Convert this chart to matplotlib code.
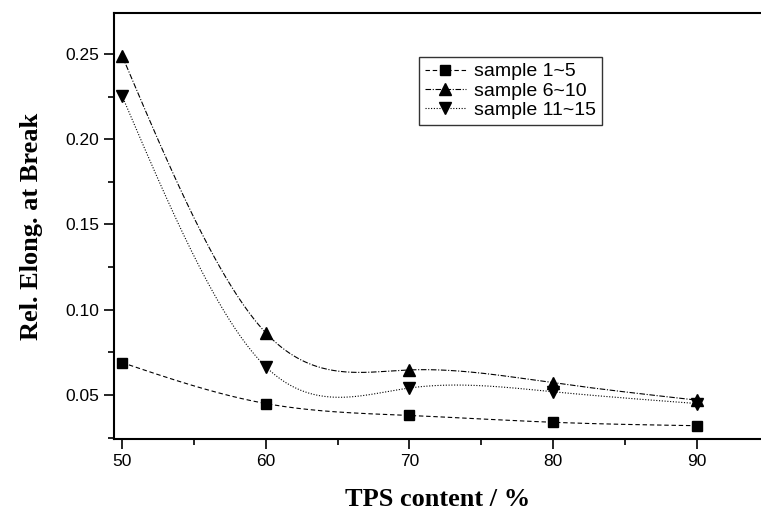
"""Rel. elongation at break vs TPS content, three sample groups."""

import matplotlib
matplotlib.use("Agg")
import matplotlib.pyplot as plt
import numpy as np
from matplotlib.ticker import MultipleLocator

tps = [50, 60, 70, 80, 90]
s1_5 = [0.069, 0.045, 0.038, 0.034, 0.032]
s6_10 = [0.249, 0.0865, 0.0647, 0.0572, 0.047]
s11_15 = [0.2254, 0.0666, 0.0541, 0.0519, 0.045]
labels = ["sample 1~5", "sample 6~10", "sample 11~15"]


def natural_spline(x, y, n=300):
    # natural cubic spline, only for drawing the smooth connecting line
    x = np.asarray(x, float)
    y = np.asarray(y, float)
    k = len(x)
    h = np.diff(x)
    A = np.zeros((k, k))
    b = np.zeros(k)
    A[0, 0] = A[-1, -1] = 1.0
    for i in range(1, k - 1):
        A[i, i - 1] = h[i - 1]
        A[i, i] = 2 * (h[i - 1] + h[i])
        A[i, i + 1] = h[i]
        b[i] = 6 * ((y[i + 1] - y[i]) / h[i] - (y[i] - y[i - 1]) / h[i - 1])
    M = np.linalg.solve(A, b)
    xs = np.linspace(x[0], x[-1], n)
    idx = np.clip(np.searchsorted(x, xs) - 1, 0, k - 2)
    x0, x1 = x[idx], x[idx + 1]
    hh = x1 - x0
    t0, t1 = x1 - xs, xs - x0
    ys = (M[idx] * t0 ** 3 + M[idx + 1] * t1 ** 3) / (6 * hh) \
        + (y[idx] / hh - M[idx] * hh / 6) * t0 + (y[idx + 1] / hh - M[idx + 1] * hh / 6) * t1
    return xs, ys


fig = plt.figure(figsize=(7.61, 5.15), dpi=100)
ax = fig.add_axes([114 / 761, 76 / 515, 647 / 761, 426 / 515])

styles = [((0, (4, 2.5)), "s", 6.5), ((0, (5, 1.5, 1, 1.5)), "^", 9), ((0, (1, 1.5)), "v", 9)]
handles = []
for vals, lab, (ls, mk, ms) in zip([s1_5, s6_10, s11_15], labels, styles):
    xs, ys = natural_spline(tps, vals)
    ax.plot(xs, ys, color="black", lw=0.8, ls=ls)
    ax.plot(tps, vals, ls="none", marker=mk, ms=ms, color="black")
    h, = ax.plot([], [], color="black", lw=0.8, ls=ls, marker=mk, ms=ms)
    handles.append(h)

ax.set_xlim(49.44, 94.47)
ax.set_ylim(0.0242, 0.274)
ax.xaxis.set_major_locator(MultipleLocator(10))
ax.xaxis.set_minor_locator(MultipleLocator(5))
ax.yaxis.set_major_locator(MultipleLocator(0.05))
ax.yaxis.set_minor_locator(MultipleLocator(0.025))
ax.yaxis.set_major_formatter(plt.FuncFormatter(lambda v, p: f"{v:.2f}"))
ax.tick_params(which="major", direction="out", length=7, width=1.2, labelsize=12.5)
ax.tick_params(which="minor", direction="out", length=4, width=1.2)
for lbl in ax.get_xticklabels() + ax.get_yticklabels():
    lbl.set_fontfamily("Liberation Sans")
ax.spines["right"].set_visible(False)
for s in ["left", "bottom", "top"]:
    ax.spines[s].set_linewidth(1.5)

ax.set_xlabel("TPS content / %", fontfamily="Liberation Serif", fontweight="bold", fontsize=19, labelpad=14)
ax.set_ylabel("Rel. Elong. at Break", fontfamily="Liberation Serif", fontweight="bold", fontsize=19, labelpad=16)

leg = ax.legend(handles, labels, loc="upper left", bbox_to_anchor=((419 - 114) / 647, (439 - 57) / 426),
                frameon=True, fancybox=False, edgecolor="black", handlelength=2.1, handletextpad=0.45,
                borderpad=0.3, labelspacing=0.08, borderaxespad=0,
                prop={"family": "Liberation Sans", "size": 14})
leg.get_frame().set_linewidth(1.0)

fig.savefig("out.png", dpi=100)
